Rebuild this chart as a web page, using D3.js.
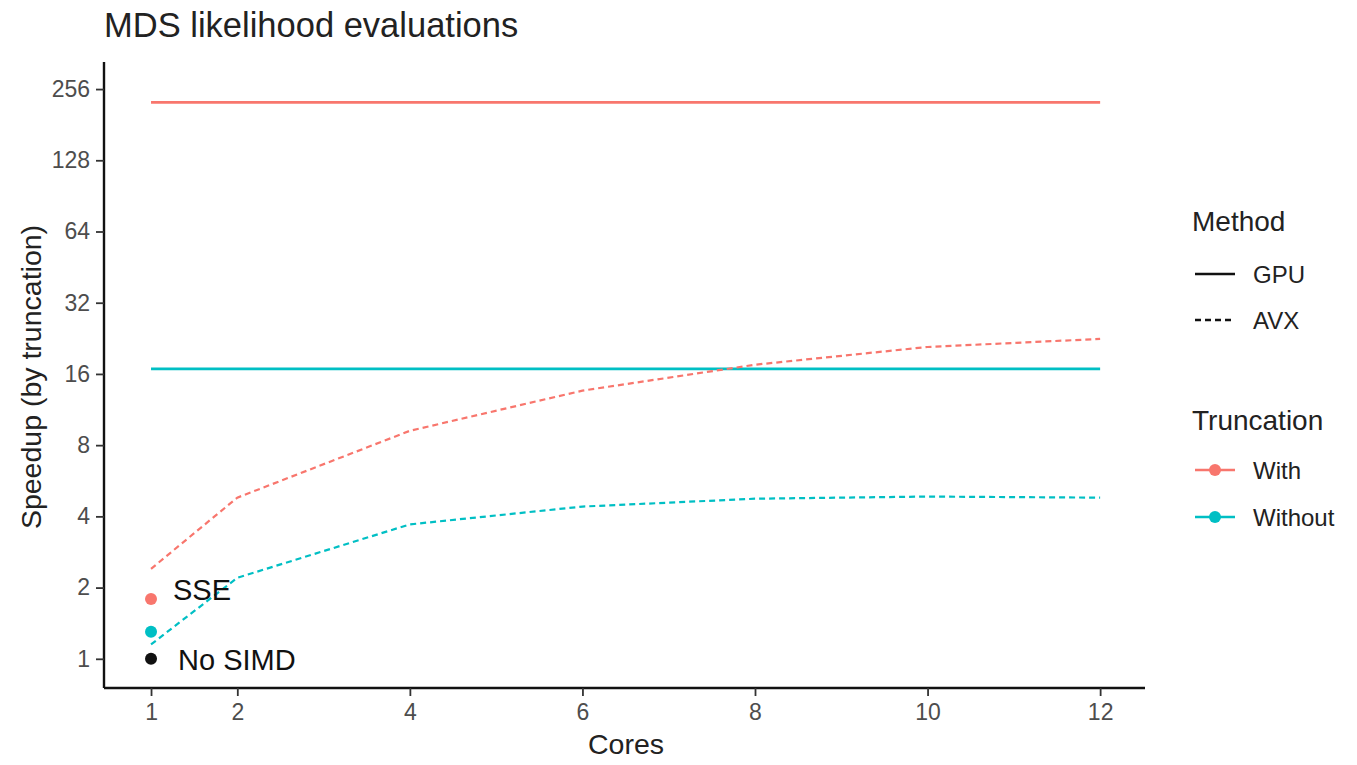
<!DOCTYPE html>
<html><head><meta charset="utf-8">
<script src="https://cdn.jsdelivr.net/npm/d3@7"></script>
<style>body{margin:0;background:#fff;} text{font-family:"Liberation Sans",Arial,sans-serif;}</style>
</head><body><svg id="c" width="1357" height="765"></svg>
<script>
const cores = [1, 2, 4, 6, 8, 10, 12];
const avxWith = [2.4, 4.8, 9.2, 13.6, 17.5, 20.8, 22.5];
const avxWithout = [1.15, 2.2, 3.7, 4.4, 4.75, 4.85, 4.8];
const gpuWith = 225;
const gpuWithout = 16.8;
const sseWith = 1.79;
const sseWithout = 1.3;
const noSimd = 1;
const xTicks = [1, 2, 4, 6, 8, 10, 12];
const yTicks = [1, 2, 4, 8, 16, 32, 64, 128, 256];
const colWith = "#F8766D", colWithout = "#00BFC4";

const svg = d3.select("#c");
const L = 104, R = 1145, T = 62, B = 688;
const x = d3.scaleLinear().domain([0.455, 12.52]).range([L, R]);
const y = d3.scaleLog().base(2).domain([Math.pow(2, -0.41), Math.pow(2, 8.38)]).range([B, T]);

// title
svg.append("text").attr("x", 104).attr("y", 37).attr("font-size", 34.5).attr("fill", "#222").text("MDS likelihood evaluations");

// axes
const xa = svg.append("g").attr("transform", `translate(0,${B})`)
  .call(d3.axisBottom(x).tickValues(xTicks).tickSize(8).tickPadding(8).tickFormat(d3.format("d")));
const ya = svg.append("g").attr("transform", `translate(${L},0)`)
  .call(d3.axisLeft(y).tickValues(yTicks).tickSize(8).tickPadding(6).tickFormat(d3.format("d")));
[xa, ya].forEach(g => {
  g.select(".domain").attr("stroke", "#111").attr("stroke-width", 2.4);
  g.selectAll(".tick line").attr("stroke", "#333").attr("stroke-width", 1.8);
  g.selectAll(".tick text").attr("fill", "#4d4d4d").attr("font-size", 23).attr("font-family", "Liberation Sans, Arial, sans-serif");
});
xa.select(".domain").attr("d", `M${L},0H${R}`);
ya.select(".domain").attr("d", `M0,${T}V${B}`);

// axis titles
svg.append("text").attr("x", 626).attr("y", 754).attr("text-anchor", "middle").attr("font-size", 28.5).attr("fill", "#222").text("Cores");
svg.append("text").attr("transform", `translate(41,${(T + B) / 2 + 2}) rotate(-90)`).attr("text-anchor", "middle").attr("font-size", 28.5).attr("fill", "#222").text("Speedup (by truncation)");

const line = d3.line().x(d => x(d[0])).y(d => y(d[1]));
// GPU
svg.append("path").datum([[1, gpuWith], [12, gpuWith]]).attr("d", line).attr("stroke", colWith).attr("stroke-width", 2.8).attr("fill", "none");
svg.append("path").datum([[1, gpuWithout], [12, gpuWithout]]).attr("d", line).attr("stroke", colWithout).attr("stroke-width", 2.8).attr("fill", "none");
// AVX
svg.append("path").datum(cores.map((c, i) => [c, avxWith[i]])).attr("d", line).attr("stroke", colWith).attr("stroke-width", 2.2).attr("stroke-dasharray", "6,4").attr("fill", "none");
svg.append("path").datum(cores.map((c, i) => [c, avxWithout[i]])).attr("d", line).attr("stroke", colWithout).attr("stroke-width", 2.2).attr("stroke-dasharray", "6,4").attr("fill", "none");

// points
svg.append("circle").attr("cx", x(1)).attr("cy", y(sseWith)).attr("r", 6).attr("fill", colWith);
svg.append("circle").attr("cx", x(1)).attr("cy", y(sseWithout)).attr("r", 6).attr("fill", colWithout);
svg.append("circle").attr("cx", x(1)).attr("cy", y(noSimd)).attr("r", 6).attr("fill", "#111");

// annotations
svg.append("text").attr("x", 173).attr("y", y(sseWith) + 1).attr("font-size", 29).attr("fill", "#111").text("SSE");
svg.append("text").attr("x", 178).attr("y", y(noSimd) + 11).attr("font-size", 29).attr("fill", "#111").text("No SIMD");

// legend
const lg = svg.append("g");
lg.append("text").attr("x", 1192).attr("y", 231).attr("font-size", 28).attr("fill", "#222").text("Method");
[["GPU", null, 274], ["AVX", "6,4", 320]].forEach(([lab, dash, yy]) => {
  lg.append("line").attr("x1", 1195).attr("x2", 1235).attr("y1", yy).attr("y2", yy).attr("stroke", "#111").attr("stroke-width", 2.6).attr("stroke-dasharray", dash);
  lg.append("text").attr("x", 1253).attr("y", yy + 9).attr("font-size", 24).attr("fill", "#222").text(lab);
});
lg.append("text").attr("x", 1192).attr("y", 430).attr("font-size", 28).attr("fill", "#222").text("Truncation");
[["With", colWith, 470], ["Without", colWithout, 517]].forEach(([lab, c, yy]) => {
  lg.append("line").attr("x1", 1195).attr("x2", 1235).attr("y1", yy).attr("y2", yy).attr("stroke", c).attr("stroke-width", 2.6);
  lg.append("circle").attr("cx", 1215).attr("cy", yy).attr("r", 6).attr("fill", c);
  lg.append("text").attr("x", 1253).attr("y", yy + 9).attr("font-size", 24).attr("fill", "#222").text(lab);
});
</script></body></html>
